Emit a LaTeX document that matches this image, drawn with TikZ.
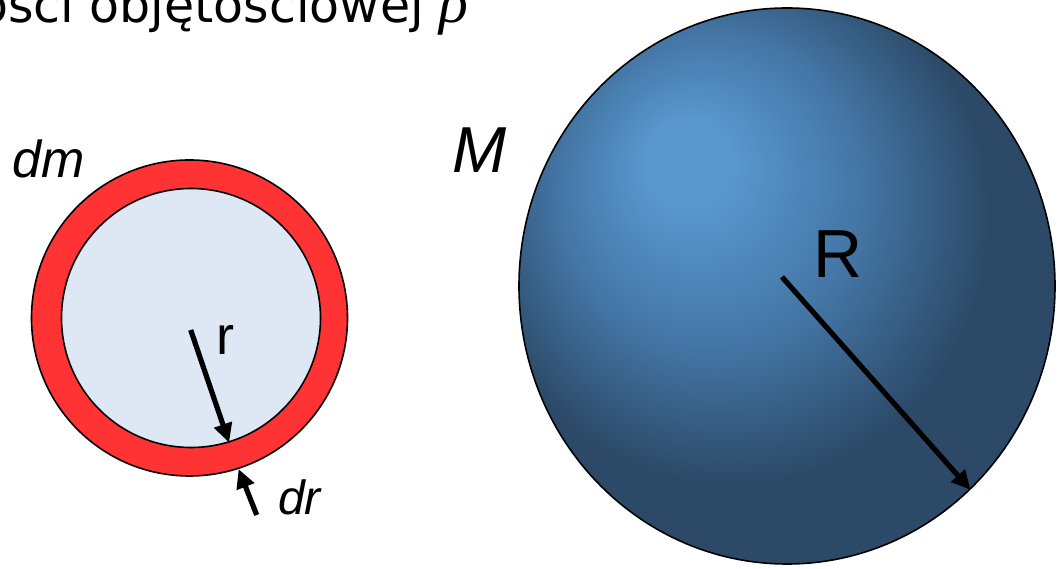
\documentclass[tikz,border=0pt]{standalone}
\usepackage{fontspec}
\setmainfont{Liberation Sans}
\newfontfamily\titlefont{DejaVu Sans}
\newfontfamily\greekfont{Liberation Serif}
\usetikzlibrary{arrows.meta,shapes.geometric}
\definecolor{shellred}{RGB}{255,51,51}
\definecolor{corefill}{RGB}{221,232,244}
\definecolor{spherelight}{RGB}{89,151,206}
\definecolor{spheremid}{RGB}{68,118,166}
\definecolor{spheredark}{RGB}{44,74,104}
\pgfdeclareradialshading{spheregrad}{\pgfpoint{-10bp}{12bp}}{%
  color(0bp)=(spherelight); color(4bp)=(spherelight); color(14bp)=(spheremid);
  color(24bp)=(spheredark); color(50bp)=(spheredark)}
\tikzset{
  radiusarrow/.style={-{Triangle[length=19pt,width=18pt]},line width=5.2pt,draw=black},
  ball/.style={circle,draw=black,line width=1.6pt,inner sep=0pt},
  labeltext/.style={anchor=base west,inner sep=0pt}
}

\begin{document}
\begin{tikzpicture}[x=1pt,y=1pt]
  \useasboundingbox (0,0) rectangle (1058,569);
  \clip (0,0) rectangle (1058,569);
  % heading, cut at the page edge
  \node (title) [labeltext,font=\titlefont\fontsize{49}{49}\selectfont] at (-22,546) {ości objętościowej {\greekfont\itshape\fontsize{60}{60}\selectfont ρ}};
  % thin shell dm
  \node (shell) [ball,fill=shellred,minimum size=316pt] at (189.5,251) {};
  \node (core)  [ball,fill=corefill,minimum size=259pt] at (191,251) {};
  \node (dmlabel) [labeltext,font=\itshape\fontsize{52}{52}\selectfont] at (12,391) {dm};
  \node (rlabel)  [labeltext,font=\fontsize{54}{54}\selectfont] at (216,214) {r};
  \node (drlabel) [labeltext,font=\itshape\fontsize{48}{48}\selectfont] at (278,54) {dr};
  % whole sphere M
  \node (sphere) [ellipse,draw=black,line width=1.6pt,inner sep=0pt,shade,shading=spheregrad,
    minimum width=536pt,minimum height=556pt] at (787,283) {};
  \node (Mlabel) [labeltext,font=\itshape\fontsize{65}{65}\selectfont] at (452,396) {M};
  \node (Rlabel) [labeltext,font=\fontsize{68}{68}\selectfont] at (813,291) {R};
  % radii
  \coordinate (rfoot) at (190.7,239);
  \coordinate (drfoot) at (256.7,54);
  \coordinate (Rfoot) at (782,292);
  \draw[radiusarrow] (rfoot) -- (core.-73);
  \draw[radiusarrow] (drfoot) -- (shell.-72);
  \draw[radiusarrow] (Rfoot) -- (sphere.-48);
\end{tikzpicture}
\end{document}
